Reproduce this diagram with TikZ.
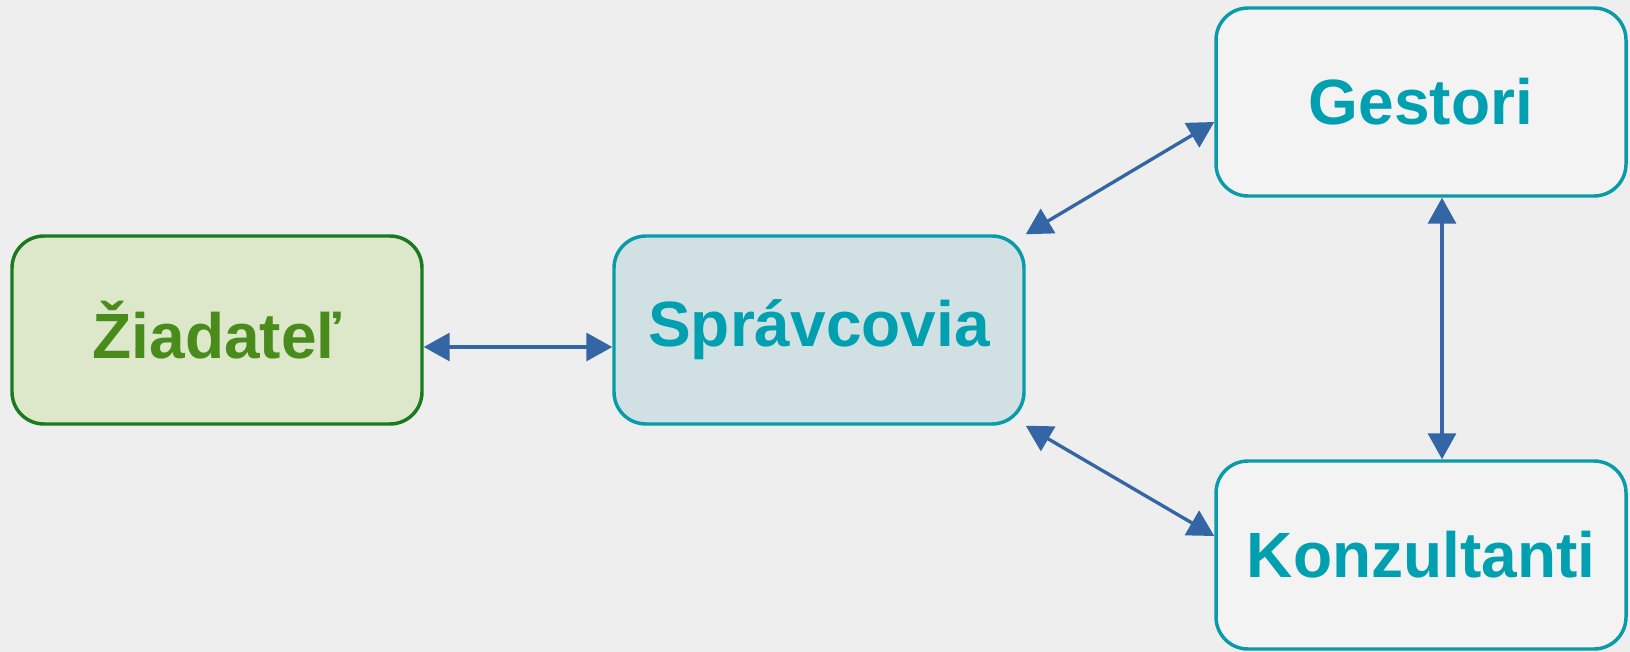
\documentclass[tikz,border=0pt]{standalone}
\usepackage{fontspec}
\setmainfont{Liberation Sans}
\usepackage{xcolor}
\usetikzlibrary{arrows.meta,positioning,calc}

\definecolor{bgcol}{HTML}{EEEEEE}
\definecolor{greenfill}{HTML}{DDE8CA}
\definecolor{greenline}{HTML}{1B7A1F}
\definecolor{greentext}{HTML}{4A8C1C}
\definecolor{tealfill}{HTML}{D0E0E3}
\definecolor{tealline}{HTML}{0A9BA8}
\definecolor{tealtext}{HTML}{00A0B0}
\definecolor{greyfill}{HTML}{F3F3F3}
\definecolor{arrowcol}{HTML}{3465A4}

\begin{document}
\begin{tikzpicture}[x=0.75pt, y=-0.75pt, node distance=451.5pt, thick]
% Define styles for the boxes and connectors
\tikzstyle{block} = [rectangle, draw=tealline, fill=tealfill, line width=2.6pt, rounded corners=24pt, minimum width=307.5pt, minimum height=141pt, text=tealtext, font=\fontsize{48pt}{58pt}\selectfont\bfseries]
\tikzstyle{applicantbox} = [block, draw=greenline, fill=greenfill, text=greentext]
\tikzstyle{line} = [draw, arrowcol, line width=2.5pt, >={Triangle[length=19.5pt,width=21pt]}, <->]

% Background and page size
\fill [bgcol] (0,0) rectangle (1630,652);
\useasboundingbox (0,0) rectangle (1630,652);

% Place nodes
\node [applicantbox] (applicant) at (217,330) {Žiadateľ};
\node [block, right of=applicant] (admins) {Správcovia};
\node [block, fill=greyfill, right of=admins, yshift=171pt] (gestors) {Gestori};
\node [block, fill=greyfill, right of=admins, yshift=-168.75pt] (consultants) {Konzultanti};

% Connect nodes with arrows
\path [line] ([yshift=-12.75pt]applicant.east) -- ([yshift=-12.75pt]admins.west);
\path [line] (admins.north east) -- ([yshift=-15pt]gestors.west);
\path [line] (admins.south east) -- ([yshift=14.25pt]consultants.west);
\path [line] ([xshift=15.75pt]gestors.south) -- ([xshift=15.75pt]consultants.north);

\end{tikzpicture}
\end{document}
